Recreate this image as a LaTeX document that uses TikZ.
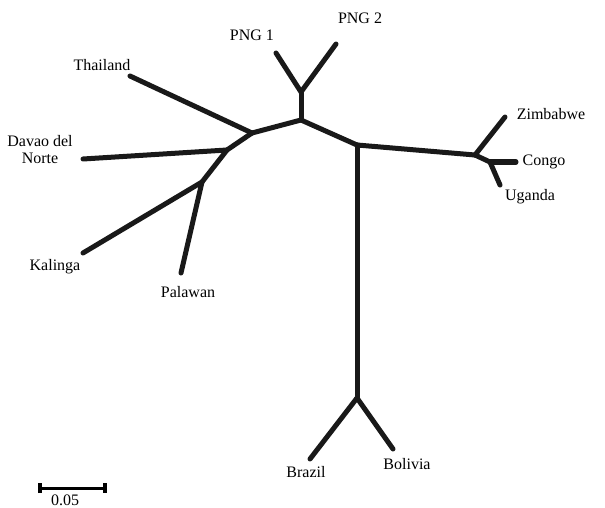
\documentclass[tikz,border=0pt]{standalone}
\usepackage{fontspec}
\setmainfont{Liberation Serif}
\usetikzlibrary{arrows.meta}

\begin{document}
\begin{tikzpicture}[
  x=1pt, y=-1pt,
  branch/.style={line width=5pt, line cap=round, draw=black!90},
  taxon/.style={font=\fontsize{16}{17}\selectfont, inner sep=0pt, align=center},
]
  \useasboundingbox (0,0) rectangle (605,508);

  % Internal nodes of the tree
  \coordinate (png) at (301,92);
  \coordinate (root) at (301,120);
  \coordinate (asia) at (252,133);
  \coordinate (phil) at (227,150);
  \coordinate (luzon) at (202,182);
  \coordinate (split) at (357,145);
  \coordinate (africa) at (475,155);
  \coordinate (central) at (490,162);
  \coordinate (samer) at (357,398);

  % Tips
  \coordinate (png1) at (276,53);
  \coordinate (png2) at (336,44);
  \coordinate (thai) at (130,76);
  \coordinate (davao) at (83,159);
  \coordinate (kal) at (83,253);
  \coordinate (pal) at (181,273);
  \coordinate (zim) at (505,117);
  \coordinate (congo) at (516,162);
  \coordinate (uga) at (500,185);
  \coordinate (bra) at (310,459);
  \coordinate (bol) at (393,449);

  % Branches
  \draw[branch] (png1) -- (png) -- (png2);
  \draw[branch] (png) -- (root);
  \draw[branch] (root) -- (asia);
  \draw[branch] (asia) -- (thai);
  \draw[branch] (asia) -- (phil);
  \draw[branch] (phil) -- (davao);
  \draw[branch] (phil) -- (luzon);
  \draw[branch] (luzon) -- (kal);
  \draw[branch] (luzon) -- (pal);
  \draw[branch] (root) -- (split);
  \draw[branch] (split) -- (africa);
  \draw[branch] (africa) -- (zim);
  \draw[branch] (africa) -- (central);
  \draw[branch] (central) -- (congo);
  \draw[branch] (central) -- (uga);
  \draw[branch] (split) -- (samer);
  \draw[branch] (samer) -- (bra);
  \draw[branch] (samer) -- (bol);

  % Labels
  \node[taxon] (lpng1) at (252,35) {PNG 1};
  \node[taxon] (lpng2) at (360,18) {PNG 2};
  \node[taxon] (lthai) at (102,65) {Thailand};
  \node[taxon] (ldavao) at (40,150) {Davao del\\Norte};
  \node[taxon] (lkal) at (55,267) {Kalinga};
  \node[taxon] (lpal) at (188,292) {Palawan};
  \node[taxon] (lzim) at (551,114) {Zimbabwe};
  \node[taxon] (lcongo) at (544,162) {Congo};
  \node[taxon] (luga) at (530,197) {Uganda};
  \node[taxon] (lbra) at (306,472) {Brazil};
  \node[taxon] (lbol) at (407,464) {Bolivia};

  % Scale bar
  \coordinate (barL) at (38,488);
  \coordinate (barR) at (107,488);
  \draw[line width=3pt, {Bar[width=10pt,line width=4pt]}-{Bar[width=10pt,line width=4pt]}] (barL) -- (barR);
  \node[taxon] (lbar) at (65,500) {0.05};
\end{tikzpicture}
\end{document}
